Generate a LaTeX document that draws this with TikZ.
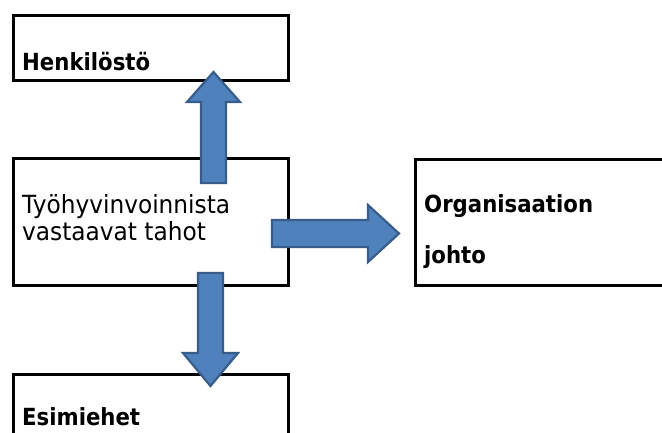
\documentclass[tikz,border=0pt]{standalone}
\usepackage{fontspec}
\setmainfont{DejaVu Sans}
\newfontfamily\regnarrow{DejaVu Sans}[FakeStretch=0.93]
\newfontfamily\boldnarrow{DejaVu Sans}[FakeStretch=0.9]
\usetikzlibrary{calc}
\definecolor{arrfill}{RGB}{79,129,189}
\definecolor{arrline}{RGB}{56,93,138}
\tikzset{
  boxnode/.style={draw=black, line width=2.6pt, fill=white, rectangle, anchor=north west, inner sep=0pt},
  boldtxt/.style={anchor=base west, inner sep=0pt, font=\boldnarrow\fontsize{23.6}{28}\selectfont\bfseries},
  regtxt/.style={anchor=base west, inner sep=0pt, font=\regnarrow\fontsize{25}{30}\selectfont},
  blockarrow/.style={fill=arrfill, draw=arrline, line width=2.2pt, line join=miter}
}
\begin{document}
\begin{tikzpicture}[x=1pt,y=-1pt]
\useasboundingbox (0,0) rectangle (662,432);
\clip (0,0) rectangle (662,432);
% boxes
\node[boxnode, minimum width=275pt, minimum height=65pt] (henk) at (12,14) {};
\node[boxnode, minimum width=275pt, minimum height=127pt] (tahot) at (12,157) {};
\node[boxnode, minimum width=270pt, minimum height=126pt] (johto) at (414,158) {};
\node[boxnode, minimum width=275pt, minimum height=90pt] (esim) at (12,373) {};
% texts
\node[boldtxt] (t1) at ($(henk.north west)+(10,56.5)$) {Henkilöstö};
\node[regtxt] (t2) at ($(tahot.north west)+(10,56)$) {Työhyvinvoinnista};
\node[regtxt] (t3) at ($(tahot.north west)+(10,83)$) {vastaavat tahot};
\node[boldtxt] (t4) at ($(johto.north west)+(10,54)$) {Organisaation};
\node[boldtxt] (t5) at ($(johto.north west)+(10,105)$) {johto};
\node[boldtxt] (t6) at ($(esim.north west)+(10,52)$) {Esimiehet};
% arrows
\coordinate (upbase) at (213.5,183);
\coordinate (uptip) at (213.5,72);
\draw[blockarrow] (201,183) -- (201,102) -- (187,102) -- (uptip) -- (240,102) -- (226,102) -- (226,183) -- cycle;
\coordinate (rtip) at (399,233.5);
\draw[blockarrow] (272,220) -- (368,220) -- (368,205) -- (rtip) -- (368,262) -- (368,247) -- (272,247) -- cycle;
\coordinate (dtip) at (210.5,386);
\draw[blockarrow] (198,273) -- (223,273) -- (223,353) -- (238,353) -- (dtip) -- (183,353) -- (198,353) -- cycle;
\end{tikzpicture}
\end{document}
